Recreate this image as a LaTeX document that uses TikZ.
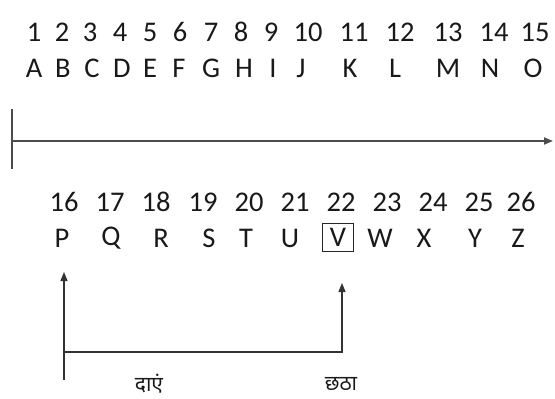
\documentclass[tikz,border=0pt]{standalone}
\usepackage{fontspec}
\setmainfont{Carlito}
\newfontfamily\devfont[Script=Devanagari]{Noto Sans}
\usetikzlibrary{arrows.meta}
\begin{document}
\begin{tikzpicture}[x=1pt,y=-1pt,
  lbl/.style={inner sep=0pt,anchor=center,font=\fontsize{28.5}{28.5}\selectfont,text=black!90},
  hin/.style={inner sep=0pt,anchor=center,font=\devfont\fontsize{21}{21}\selectfont,text=black!90},
  axis/.style={line width=1.8pt,draw=black!70},
  conn/.style={line width=1.3pt,draw=black!80},
  tip/.style={-{Triangle[width=7pt,length=9pt]}}]
\useasboundingbox (0,0) rectangle (555,399);
% top row numbers
\foreach \n/\x in {1/34,2/62,3/90,4/120,5/150,6/180,7/211,8/241,9/271,10/308,11/354,12/400,13/448,14/494,15/535}
  \node[lbl] (n\n) at (\x,32) {\n};
\foreach \l/\x in {A/34,B/63,C/92,D/122,E/150,F/179,G/211,H/244,I/273,J/301,K/350,L/395,M/448,N/490,O/533}
  \node[lbl] (l\l) at (\x,68) {\l};
% axis
\coordinate (ax0) at (12,141);
\coordinate (ax1) at (553,141);
\coordinate (bar0) at (12,109);
\coordinate (bar1) at (12,169);
\draw[axis] (bar0) -- (bar1);
\draw[axis,tip] (ax0) -- (ax1);
% bottom rows
\foreach \n/\x in {16/64,17/110,18/156,19/203,20/249,21/295,22/341,23/387,24/433,25/479,26/521}
  \node[lbl] (n\n) at (\x,202) {\n};
\foreach \l/\x in {P/62,Q/111,R/161,S/209,T/246,U/290,W/380,X/424,Y/475,Z/518}
  \node[lbl] (l\l) at (\x,238) {\l};
\node[lbl,draw=black!85,line width=1pt,minimum width=31pt,minimum height=28pt] (lV) at (338,237) {V};
% bottom arrows
\coordinate (lb) at (64,380);
\coordinate (lt) at (64,272);
\coordinate (hl) at (64,352);
\coordinate (hr) at (342,352);
\coordinate (rt) at (342,283);
\draw[conn,tip] (lb) -- (lt);
\draw[conn,tip] (hl) -- (hr) -- (rt);
\node[hin] (t1) at (149,384) {दाएं};
\node[hin] (t2) at (341,384) {छठा};
\end{tikzpicture}
\end{document}
